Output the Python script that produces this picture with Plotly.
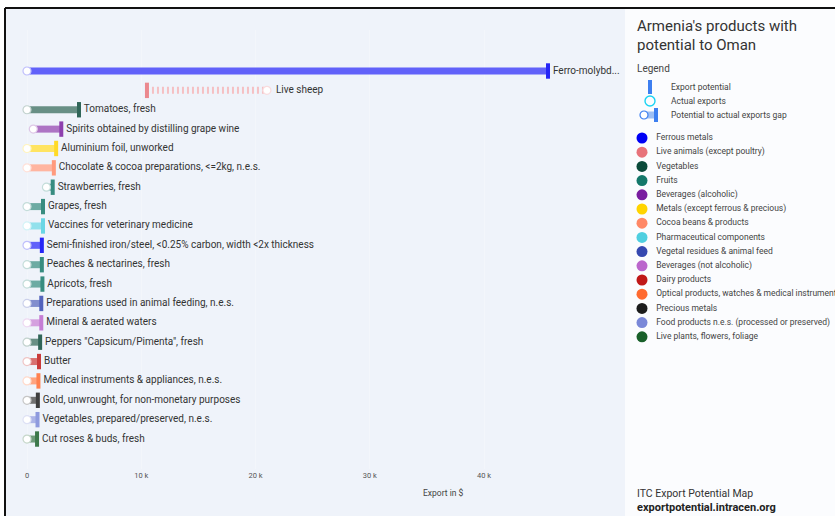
import plotly.graph_objects as go

# Products ranked by export potential (US$), with actual exports
products = [
    "Ferro-molybd...", "Live sheep", "Tomatoes, fresh",
    "Spirits obtained by distilling grape wine", "Aluminium foil, unworked",
    "Chocolate & cocoa preparations, <=2kg, n.e.s.", "Strawberries, fresh",
    "Grapes, fresh", "Vaccines for veterinary medicine",
    "Semi-finished iron/steel, <0.25% carbon, width <2x thickness",
    "Peaches & nectarines, fresh", "Apricots, fresh",
    "Preparations used in animal feeding, n.e.s.", "Mineral & aerated waters",
    'Peppers "Capsicum/Pimenta", fresh', "Butter",
    "Medical instruments & appliances, n.e.s.",
    "Gold, unwrought, for non-monetary purposes",
    "Vegetables, prepared/preserved, n.e.s.", "Cut roses & buds, fresh",
]
potential = [45600, 10500, 4550, 3000, 2550, 2350, 2250, 1400, 1400, 1300,
             1300, 1350, 1250, 1250, 1150, 1050, 1000, 950, 920, 880]
actual = [0, 21000, 0, 550, 0, 0, 1700, 0, 0, 0,
          0, 0, 0, 0, 0, 0, 0, 0, 0, 0]
product_sector = [0, 1, 2, 4, 5, 6, 3, 3, 7, 0,
                  3, 3, 8, 9, 2, 10, 11, 12, 13, 14]

sectors = [
    "Ferrous metals", "Live animals (except poultry)", "Vegetables", "Fruits",
    "Beverages (alcoholic)", "Metals (except ferrous & precious)",
    "Cocoa beans & products", "Pharmaceutical components",
    "Vegetal residues & animal feed", "Beverages (not alcoholic)",
    "Dairy products", "Optical products, watches & medical instruments",
    "Precious metals", "Food products n.e.s. (processed or preserved)",
    "Live plants, flowers, foliage",
]
sector_colors = [
    "#0000f5", "#e8737a", "#0b4a3a", "#14786a", "#7a1ea0", "#ffd400",
    "#ff8866", "#4fcfe0", "#3548b0", "#bb66cc", "#c01818", "#ff6a30",
    "#1c1c1c", "#7a88d8", "#19602a",
]

tick_vals = [0, 10000, 20000, 30000, 40000]
tick_text = ["0", "10 k", "20 k", "30 k", "40 k"]

W, H = 835, 516
FONT = "Roboto, Noto Sans, sans-serif"

# main axes: 0 at px 27, 11.425 px per 1k
px_per = 11.425 / 1000
x_lo = -(27 - 15) / px_per
x_hi = (620 - 27) / px_per
T, B = 30, 469
row_step = 19.37
r_top = -(71 - T) / row_step
r_bot = (B - 71) / row_step


def tint(hex_color, amount):
    """Blend a colour toward white; amount=1 keeps the colour."""
    h = hex_color.lstrip("#")
    r, g, b = (int(h[i:i + 2], 16) for i in (0, 2, 4))
    mix = lambda c: int(round(c * amount + 255 * (1 - amount)))
    return "#{:02x}{:02x}{:02x}".format(mix(r), mix(g), mix(b))


fig = go.Figure()
rows = list(range(len(products)))

# Gap bars between actual exports and potential
for i in rows:
    col = sector_colors[product_sector[i]]
    lo, hi = sorted([actual[i], potential[i]])
    dashed = actual[i] > potential[i]
    fig.add_trace(go.Scatter(
        x=[lo, hi], y=[i, i], mode="lines",
        line=dict(color=tint(col, 0.45 if dashed else 0.62), width=7,
                  dash="2px,3px" if dashed else "solid"),
        hoverinfo="skip", showlegend=False,
    ))

# Potential markers
fig.add_trace(go.Scatter(
    x=potential, y=rows, mode="markers",
    marker=dict(symbol="line-ns", size=11,
                line=dict(width=4, color=[tint(sector_colors[s], 0.85) for s in product_sector])),
    hoverinfo="skip", showlegend=False,
))

# Actual export circles
fig.add_trace(go.Scatter(
    x=actual, y=rows, mode="markers",
    marker=dict(symbol="circle", size=8, color="white",
                line=dict(width=1.2, color=[tint(sector_colors[s], 0.25) for s in product_sector])),
    hoverinfo="skip", showlegend=False,
))

# Product labels right of each mark (extra room when the circle is rightmost)
label_x = [p if p >= a else a + 4 / px_per for a, p in zip(actual, potential)]
fig.add_trace(go.Scatter(
    x=label_x, y=rows, mode="text",
    text=["  " + p for p in products], textposition="middle right",
    textfont=dict(family=FONT, size=10, color="#333333"),
    hoverinfo="skip", showlegend=False,
))

# Right-hand legend panel (pixel-like coordinates)
leg_y0, leg_dy = 138, 14.2
fig.add_trace(go.Scatter(
    x=[642] * len(sectors), y=[leg_y0 + k * leg_dy for k in range(len(sectors))],
    mode="markers+text", text=["   " + s for s in sectors], textposition="middle right",
    textfont=dict(family=FONT, size=8.5, color="#444444"),
    marker=dict(size=11, color=sector_colors),
    xaxis="x2", yaxis="y2", hoverinfo="skip", showlegend=False,
))
key_y = [87, 101, 115]
fig.add_trace(go.Scatter(
    x=[650], y=[key_y[0]], mode="markers",
    marker=dict(symbol="line-ns", size=10, line=dict(width=4, color="#3d7ff0")),
    xaxis="x2", yaxis="y2", hoverinfo="skip", showlegend=False,
))
fig.add_trace(go.Scatter(
    x=[650], y=[key_y[1]], mode="markers",
    marker=dict(symbol="circle-open", size=10, line=dict(width=1.4, color="#3d7ff0")),
    xaxis="x2", yaxis="y2", hoverinfo="skip", showlegend=False,
))
fig.add_trace(go.Scatter(
    x=[644, 656], y=[key_y[2]] * 2, mode="lines",
    line=dict(color="#9ec0f5", width=7),
    xaxis="x2", yaxis="y2", hoverinfo="skip", showlegend=False,
))
fig.add_trace(go.Scatter(
    x=[656], y=[key_y[2]], mode="markers",
    marker=dict(symbol="line-ns", size=10, line=dict(width=4, color="#3d7ff0")),
    xaxis="x2", yaxis="y2", hoverinfo="skip", showlegend=False,
))
fig.add_trace(go.Scatter(
    x=[644], y=[key_y[2]], mode="markers",
    marker=dict(symbol="circle", size=8, color="white", line=dict(width=1.2, color="#3d7ff0")),
    xaxis="x2", yaxis="y2", hoverinfo="skip", showlegend=False,
))
for txt, yy in zip(["Export potential", "Actual exports", "Potential to actual exports gap"], key_y):
    fig.add_annotation(x=669, y=yy, xref="x2", yref="y2", text=txt, showarrow=False,
                       xanchor="left", yanchor="middle",
                       font=dict(family=FONT, size=8.5, color="#444444"))

fig.add_annotation(x=635, y=26, xref="x2", yref="y2", text="Armenia's products with",
                   showarrow=False, xanchor="left", yanchor="middle",
                   font=dict(family=FONT, size=15, color="#333333"))
fig.add_annotation(x=635, y=45, xref="x2", yref="y2", text="potential to Oman",
                   showarrow=False, xanchor="left", yanchor="middle",
                   font=dict(family=FONT, size=15, color="#333333"))
fig.add_annotation(x=635, y=68, xref="x2", yref="y2", text="Legend",
                   showarrow=False, xanchor="left", yanchor="middle",
                   font=dict(family=FONT, size=10, color="#444444"))
fig.add_annotation(x=635, y=493, xref="x2", yref="y2", text="ITC Export Potential Map",
                   showarrow=False, xanchor="left", yanchor="middle",
                   font=dict(family=FONT, size=10.5, color="#333333"))
fig.add_annotation(x=635, y=507, xref="x2", yref="y2", text="<b>exportpotential.intracen.org</b>",
                   showarrow=False, xanchor="left", yanchor="middle",
                   font=dict(family=FONT, size=11, color="#222222"))

# x-axis title
fig.add_annotation(x=443, y=493, xref="x2", yref="y2", text="Export in $",
                   showarrow=False, xanchor="center", yanchor="middle",
                   font=dict(family=FONT, size=8.5, color="#444444"))

# panel backgrounds and frame
fig.add_shape(type="rect", xref="paper", yref="paper",
              x0=5 / W, x1=625 / W, y0=0, y1=1 - 8 / H,
              fillcolor="#eff3fa", line=dict(width=0), layer="below")
fig.add_shape(type="rect", xref="paper", yref="paper",
              x0=625 / W, x1=1, y0=0, y1=1 - 8 / H,
              fillcolor="#fbfcfe", line=dict(width=0), layer="below")
fig.add_shape(type="line", xref="paper", yref="paper",
              x0=5 / W, x1=1, y0=1 - 8 / H, y1=1 - 8 / H,
              line=dict(color="#111111", width=2))
fig.add_shape(type="line", xref="paper", yref="paper",
              x0=5 / W, x1=5 / W, y0=0, y1=1 - 8 / H,
              line=dict(color="#111111", width=2))

fig.update_layout(
    width=W, height=H,
    margin=dict(l=0, r=0, t=0, b=0),
    paper_bgcolor="white", plot_bgcolor="rgba(0,0,0,0)",
    xaxis=dict(domain=[15 / W, 620 / W], range=[x_lo, x_hi],
               tickvals=tick_vals, ticktext=tick_text,
               tickfont=dict(family=FONT, size=7.5, color="#555555"),
               showgrid=True, gridcolor="#f3f6fb", zeroline=False,
               showline=False, ticks="", fixedrange=True),
    yaxis=dict(domain=[1 - B / H, 1 - T / H], range=[r_bot, r_top],
               showgrid=False, zeroline=False, showticklabels=False,
               showline=False, fixedrange=True),
    xaxis2=dict(domain=[0, 1], range=[0, W], visible=False, anchor="y2", fixedrange=True),
    yaxis2=dict(domain=[0, 1], range=[H, 0], visible=False, anchor="x2", fixedrange=True),
)

fig.write_html("out.html")
